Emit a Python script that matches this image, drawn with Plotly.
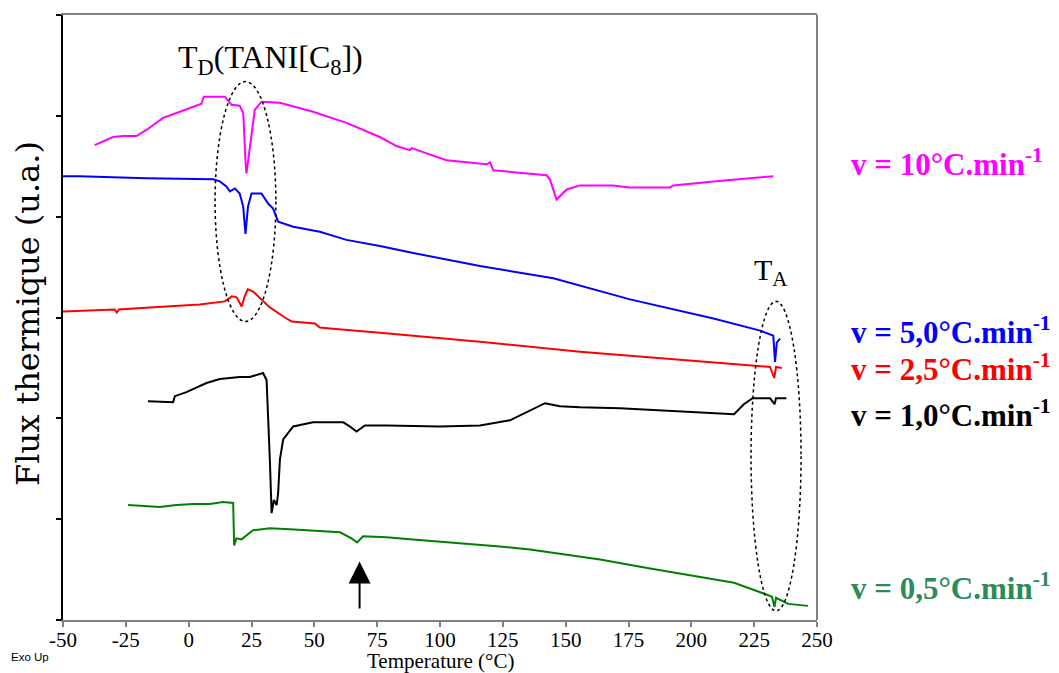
import plotly.graph_objects as go

# ---------------- data (temperature in °C, heat flux in arbitrary units) ----------------
t_10 = [-37.4, -30.1, -26.1, -20.8, -16.8, -10.2, -3.5, 5.1, 6.0, 14.4, 17.0, 20.3, 21.7, 22.1, 22.7,
        23.0, 24.3, 26.3, 29.0, 36.3, 49.5, 62.8, 76.1, 82.7, 88.0, 88.8, 93.3, 102.6, 118.6, 119.9,
        121.2, 142.4, 143.7, 146.4, 150.4, 155.7, 168.8, 175.6, 191.5, 192.8, 208.8, 222.1, 232.6]
f_10 = [4.71, 4.79, 4.80, 4.80, 4.86, 4.98, 5.04, 5.12, 5.19, 5.19, 5.11, 5.10, 5.03, 4.76, 4.51,
        4.43, 4.69, 5.06, 5.14, 5.13, 5.04, 4.93, 4.79, 4.70, 4.66, 4.68, 4.64, 4.56, 4.52, 4.54,
        4.46, 4.41, 4.37, 4.17, 4.27, 4.31, 4.31, 4.29, 4.29, 4.31, 4.35, 4.38, 4.40]

t_5 = [-50.0, -43.4, -16.8, 9.7, 12.4, 15.0, 16.4, 18.4, 20.3, 21.7, 22.6, 23.6, 25.0, 29.0, 31.6,
       33.6, 35.6, 41.6, 52.2, 62.8, 76.1, 89.3, 115.9, 145.1, 175.6, 192.8, 208.8, 227.4, 232.6,
       233.3, 234.0, 235.3]
f_5 = [4.40, 4.40, 4.38, 4.37, 4.35, 4.30, 4.25, 4.28, 4.23, 4.10, 3.83, 4.10, 4.23, 4.23, 4.13,
       4.08, 3.95, 3.90, 3.85, 3.77, 3.71, 3.64, 3.51, 3.39, 3.18, 3.08, 2.99, 2.87, 2.82,
       2.56, 2.75, 2.79]

t_25 = [-50.0, -29.4, -28.6, -27.8, -15.5, 4.4, 14.4, 17.2, 19.1, 20.3, 21.1, 22.3, 23.5, 25.5, 28.3,
        32.3, 38.3, 41.0, 50.2, 52.2, 56.2, 76.1, 115.9, 155.7, 195.5, 231.3, 233.0, 233.7, 236.0]
f_25 = [3.06, 3.08, 3.05, 3.08, 3.10, 3.13, 3.16, 3.21, 3.20, 3.15, 3.11, 3.21, 3.28, 3.26, 3.19,
        3.10, 3.00, 2.96, 2.94, 2.90, 2.89, 2.85, 2.76, 2.66, 2.58, 2.51, 2.40, 2.51, 2.50]

t_1 = [-16.2, -6.2, -5.5, -0.9, 7.1, 12.4, 20.3, 24.3, 29.6, 31.0, 32.3, 33.0, 33.9, 35.0, 35.6,
       36.3, 37.6, 41.6, 49.5, 61.5, 64.1, 66.8, 70.1, 78.7, 100.0, 115.9, 127.8, 135.8, 141.8,
       147.7, 155.7, 171.6, 187.5, 203.4, 217.0, 220.9, 224.4, 231.3, 233.1, 233.7, 237.8]
f_1 = [2.17, 2.16, 2.22, 2.26, 2.35, 2.39, 2.41, 2.41, 2.45, 2.38, 1.59, 1.06, 1.19, 1.14, 1.26,
       1.59, 1.79, 1.92, 1.96, 1.96, 1.92, 1.87, 1.93, 1.93, 1.92, 1.93, 1.98, 2.08, 2.15,
       2.12, 2.11, 2.10, 2.08, 2.06, 2.04, 2.14, 2.20, 2.20, 2.14, 2.20, 2.20]

t_05 = [-24.1, -11.5, -4.9, 1.8, 8.4, 13.7, 17.7, 18.1, 19.0, 21.0, 25.6, 32.3, 40.2, 50.9, 60.2,
        64.8, 67.0, 69.4, 78.7, 88.0, 103.9, 123.8, 135.8, 163.7, 183.6, 203.4, 217.0, 229.1,
        232.1, 233.1, 233.7, 238.5, 246.4]
f_05 = [1.14, 1.12, 1.14, 1.15, 1.15, 1.17, 1.16, 0.74, 0.81, 0.80, 0.89, 0.91, 0.90, 0.88, 0.87,
        0.81, 0.77, 0.83, 0.82, 0.80, 0.77, 0.73, 0.70, 0.60, 0.51, 0.43, 0.37, 0.26,
        0.23, 0.13, 0.22, 0.16, 0.14]

series_names = ["v = 10°C.min<sup>-1</sup>", "v = 5,0°C.min<sup>-1</sup>", "v = 2,5°C.min<sup>-1</sup>",
                "v = 1,0°C.min<sup>-1</sup>", "v = 0,5°C.min<sup>-1</sup>"]
x_tick_vals = [-50, -25, 0, 25, 50, 75, 100, 125, 150, 175, 200, 225, 250]
x_tick_text = ["-50", "-25", "0", "25", "50", "75", "100", "125", "150", "175", "200", "225", "250"]

# ---------------- styles ----------------
line_colors = ["#FF00FF", "#0000FF", "#FF0000", "#000000", "#008000"]
label_colors = ["#FF00FF", "#0000FF", "#FF0000", "#000000", "#2E8B57"]
label_y = [0.757, 0.478, 0.417, 0.342, 0.055]
SERIF = "Liberation Serif, Times New Roman, serif"

fig = go.Figure()
for tx, fy, c in zip([t_10, t_5, t_25, t_1, t_05], [f_10, f_5, f_25, f_1, f_05], line_colors):
    fig.add_trace(go.Scatter(x=tx, y=fy, mode="lines", line=dict(color=c, width=2),
                             showlegend=False, hoverinfo="skip"))

annotations = []
for name, c, yy in zip(series_names, label_colors, label_y):
    annotations.append(dict(xref="paper", yref="paper", x=1.042, y=yy, xanchor="left", yanchor="middle",
                            text="<b>" + name + "</b>", showarrow=False,
                            font=dict(family=SERIF, size=31, color=c)))

annotations += [
    dict(xref="x", yref="y", x=32.7, y=5.56, text="T<sub>D</sub>(TANI[C<sub>8</sub>])", showarrow=False,
         font=dict(family=SERIF, size=32, color="black")),
    dict(xref="x", yref="y", x=231.5, y=3.45, text="T<sub>A</sub>", showarrow=False,
         font=dict(family=SERIF, size=30, color="black")),
    dict(xref="x", yref="y", x=68, y=0.58, ax=68, ay=0.1, axref="x", ayref="y", text="",
         showarrow=True, arrowhead=2, arrowsize=2.2, arrowwidth=2, arrowcolor="black"),
    dict(xref="paper", yref="paper", x=-0.0716, y=-0.061, xanchor="left", yanchor="middle",
         text="Exo Up", showarrow=False, font=dict(family="Liberation Sans, Arial, sans-serif",
                                                   size=11.5, color="black")),
    # axis titles
    dict(xref="paper", yref="paper", x=0.501, y=-0.0678, xanchor="center", yanchor="middle",
         text="Temperature (°C)", showarrow=False, font=dict(family=SERIF, size=21, color="black")),
    dict(xref="paper", yref="paper", x=-0.0464, y=0.506, xanchor="center", yanchor="middle",
         textangle=-90, text="Flux thermique (u.a.)", showarrow=False,
         font=dict(family="DejaVu Serif, serif", size=32, color="black")),
]

shapes = [
    dict(type="circle", xref="x", yref="y", x0=22.6 - 12.1, x1=22.6 + 12.1, y0=2.96, y1=5.34,
         line=dict(color="black", width=1.5, dash="dot")),
    dict(type="circle", xref="x", yref="y", x0=233.7 - 9.95, x1=233.7 + 9.95, y0=0.09, y1=3.16,
         line=dict(color="black", width=1.5, dash="dot")),
    dict(type="line", xref="paper", yref="paper", x0=1, x1=1, y0=0, y1=1,
         line=dict(color="#808080", width=2)),
]

# the page body adds an 8 px margin, so the figure is made 8 px smaller and shifted accordingly
fig.update_layout(
    width=1051, height=665,
    margin=dict(l=55, r=242, t=7, b=53),
    paper_bgcolor="white", plot_bgcolor="white",
    annotations=annotations, shapes=shapes,
    xaxis=dict(range=[-50, 250], tickvals=x_tick_vals, ticktext=x_tick_text, automargin=False,
               showgrid=False, zeroline=False, showline=True, linecolor="#808080", linewidth=2,
               mirror=True, ticks="outside", ticklen=5, tickcolor="#808080", tickwidth=1.5,
               ticklabelstandoff=-5,
               tickfont=dict(family=SERIF, size=21, color="black")),
    yaxis=dict(range=[0, 6], dtick=1, showticklabels=False, showgrid=False, zeroline=False,
               automargin=False, showline=True, linecolor="black", linewidth=1.5, ticks="outside",
               ticklen=5, tickcolor="black", tickwidth=1.5),
)

fig.write_html("out.html")
